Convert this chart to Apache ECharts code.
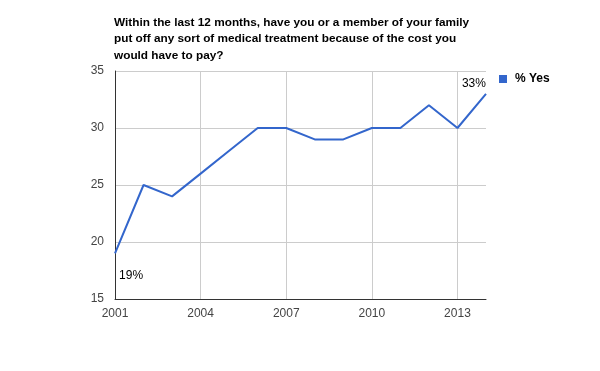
<!DOCTYPE html>
<html>
<head>
<meta charset="utf-8">
<script src="https://cdn.jsdelivr.net/npm/echarts@6/dist/echarts.min.js"></script>
<style>
  html, body { margin: 0; padding: 0; background: #fff; }
  #chart { width: 600px; height: 371px; }
</style>
</head>
<body>
<div id="chart"></div>
<script>
// data
var years = ['2001', '2002', '2003', '2004', '2005', '2006', '2007',
  '2008', '2009', '2010', '2011', '2012', '2013', '2014']
var yes = [19, 25, 24, 26, 28, 30, 30, 29, 29, 30, 30, 32, 30, 33]
var yTicks = { min: 15, max: 35, interval: 5 }
var seriesName = '% Yes'
var titleLines = [
  'Within the last 12 months, have you or a member of your family',
  'put off any sort of medical treatment because of the cost you',
  'would have to pay?'
]

var chart = echarts.init(document.getElementById('chart'))

var points = yes.map(function (v, i) {
  var p = { value: v }
  if (i === 0) {
    p.label = { show: true, position: 'right', distance: 4, offset: [0, 22] }
  } else if (i === yes.length - 1) {
    p.label = { show: true, position: 'left', distance: 0, offset: [0, -10] }
  }
  return p
})

chart.setOption({
  animation: false,
  title: {
    text: titleLines.join('\n'),
    left: 109,
    top: 9,
    textStyle: {
      fontFamily: 'Arial, Liberation Sans',
      fontSize: 11.8,
      fontWeight: 'bold',
      color: '#000',
      lineHeight: 16.5
    }
  },
  legend: {
    left: 494,
    top: 68,
    icon: 'rect',
    itemWidth: 8,
    itemHeight: 8,
    itemGap: 5,
    textStyle: {
      fontFamily: 'Arial, Liberation Sans',
      fontSize: 12,
      fontWeight: 'bold',
      color: '#000',
      padding: [0, 0, 0, 3]
    },
    data: [seriesName]
  },
  grid: {
    left: 115,
    right: 114,
    top: 71,
    bottom: 72,
    containLabel: false
  },
  xAxis: {
    type: 'category',
    data: years,
    boundaryGap: false,
    axisLine: { lineStyle: { color: '#333', width: 1 } },
    axisTick: { show: false },
    axisLabel: {
      interval: 2,
      margin: 9,
      color: '#444',
      fontFamily: 'Arial, Liberation Sans',
      fontSize: 12
    },
    splitLine: {
      show: true,
      interval: 2,
      lineStyle: { color: '#ccc', width: 1 }
    }
  },
  yAxis: {
    type: 'value',
    min: yTicks.min,
    max: yTicks.max,
    interval: yTicks.interval,
    axisLine: { show: true, lineStyle: { color: '#333', width: 1 } },
    axisTick: { show: false },
    axisLabel: {
      margin: 11,
      padding: [3, 0, 0, 0],
      color: '#444',
      fontFamily: 'Arial, Liberation Sans',
      fontSize: 12
    },
    splitLine: { lineStyle: { color: '#ccc', width: 1 } }
  },
  series: [{
    name: seriesName,
    type: 'line',
    data: points,
    symbol: 'circle',
    symbolSize: 0.1,
    showSymbol: true,
    itemStyle: { color: '#3366cc' },
    lineStyle: { color: '#3366cc', width: 2 },
    label: {
      show: false,
      formatter: '{c}%',
      color: '#000',
      fontFamily: 'Arial, Liberation Sans',
      fontSize: 12
    }
  }]
})
</script>
</body>
</html>
